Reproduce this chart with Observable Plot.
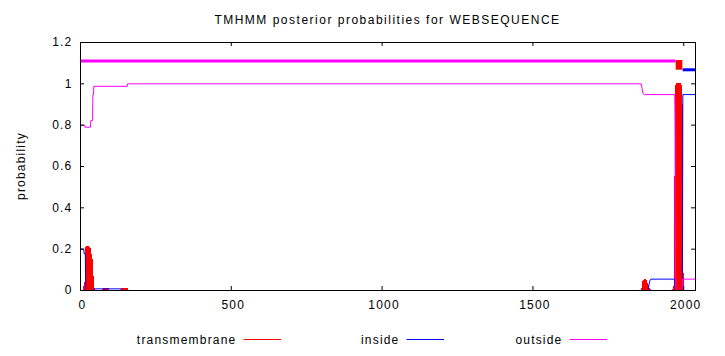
<!DOCTYPE html>
<html>
<head>
<meta charset="utf-8">
<script src="https://cdn.jsdelivr.net/npm/d3@7"></script>
<script src="https://cdn.jsdelivr.net/npm/@observablehq/plot@0.6"></script>
<style>
  body { margin: 0; background: #fff; }
  #chart { width: 725px; height: 356px; }
  #chart svg .crisp line { shape-rendering: crispEdges; }
</style>
</head>
<body>
<div id="chart"></div>
<script>
// ---------- data ----------
const title = "TMHMM posterior probabilities for WEBSEQUENCE";
const yLabel = "probability";
const seqLength = 2039;
const xTicks = [0, 500, 1000, 1500, 2000];
const yTicks = [0, 0.2, 0.4, 0.6, 0.8, 1, 1.2];
const seriesNames = ["transmembrane", "inside", "outside"];
const seriesColors = ["#ff0000", "#0000ff", "#ff00ff"];

// outside probability (breakpoints, drawn as lines)
const outsidePos = [1, 14, 15, 33, 34, 40, 41, 43, 44, 155, 156, 1859, 1862, 1864, 1869, 1970, 1971, 1972, 1973, 1974, 1975, 1995, 1996, 2039];
const outsideVal = [0.80, 0.80, 0.79, 0.79, 0.822, 0.822, 0.947, 0.947, 0.988, 0.988, 1.0, 1.0, 0.976, 0.957, 0.948, 0.948, 0.84, 0.35, 0.08, 0.01, 0, 0, 0.055, 0.055];

// inside probability (breakpoints, drawn as lines)
const insidePos = [1, 11, 12, 16, 17, 18, 44, 45, 134, 135, 1882, 1884, 1887, 1891, 1970, 1971, 1972, 1995, 1996, 1997, 2039];
const insideVal = [0.2, 0.2, 0.178, 0.178, 0.05, 0, 0, 0.008, 0.008, 0, 0, 0.02, 0.045, 0.055, 0.055, 0.02, 0, 0, 0.25, 0.948, 0.948];

// transmembrane probability (impulses, non-zero positions only)
const tmPos = [11, 12, 13, 14, 15, 16, 17, 18, 19, 20, 21, 22, 23, 24, 25, 26, 27, 28, 29, 30,
  31, 32, 33, 34, 35, 36, 37, 38, 39, 40, 41, 42, 43, 44, 45, 46,
  76, 78, 80, 82, 84, 86, 88, 90, 92,
  136, 138, 140, 142, 144, 146, 148, 150, 152, 154,
  1860, 1862, 1864, 1866, 1868, 1870, 1872, 1874, 1876, 1878, 1880, 1882, 1884, 1886, 1888, 1890,
  1966, 1968, 1969, 1970, 1971, 1972, 1973, 1974, 1975, 1976, 1977, 1978, 1979, 1980, 1981, 1982,
  1983, 1984, 1985, 1986, 1987, 1988, 1989, 1990, 1991, 1992, 1993, 1994, 1995, 1996, 1997, 1998];
const tmVal = [0.01, 0.02, 0.02, 0.03, 0.03, 0.04, 0.16, 0.205, 0.21, 0.212, 0.214, 0.214, 0.214, 0.214, 0.213, 0.212, 0.21, 0.21, 0.208, 0.205,
  0.2, 0.19, 0.178, 0.175, 0.17, 0.16, 0.15, 0.13, 0.1, 0.07, 0.05, 0.03, 0.02, 0.012, 0.01, 0.008,
  0.006, 0.01, 0.012, 0.012, 0.012, 0.012, 0.01, 0.008, 0.006,
  0.01, 0.012, 0.012, 0.012, 0.012, 0.012, 0.012, 0.012, 0.012, 0.01,
  0.005, 0.01, 0.03, 0.045, 0.05, 0.052, 0.052, 0.05, 0.045, 0.035, 0.025, 0.015, 0.008, 0.005, 0.003, 0.002,
  0.005, 0.01, 0.02, 0.05, 0.16, 0.55, 0.88, 0.97, 0.99, 0.99, 0.995, 0.998, 1.0, 1.0, 1.0, 1.0,
  1.0, 1.0, 1.0, 1.0, 1.0, 0.998, 0.995, 0.99, 0.99, 0.97, 0.9, 0.7, 0.3, 0.08, 0.02, 0.005];

// predicted topology (top bar)
const topoType = ["outside", "TMhelix", "inside"];
const topoStart = [1, 1975, 1998];
const topoEnd = [1974, 1997, 2039];

// ---------- build ----------
const W = 725, H = 356;
const mL = 80, mR = 30, mT = 42, mB = 66;
const frameW = W - mL - mR, frameH = H - mT - mB;
const tickLen = 4;

const toRows = (xs, ys) => xs.map((x, i) => ({x, y: ys[i]}));
const outsideData = toRows(outsidePos, outsideVal);
const insideData = toRows(insidePos, insideVal);
const tmData = toRows(tmPos, tmVal);
const topo = topoType.map((t, i) => ({type: t, start: topoStart[i], end: topoEnd[i]}));
const [cTM, cIn, cOut] = seriesColors;

const chart = Plot.plot({
  width: W, height: H,
  marginLeft: mL, marginRight: mR, marginTop: mT, marginBottom: mB,
  x: {domain: [0, seqLength]},
  y: {domain: [0, 1.2]},
  style: {fontFamily: "'Liberation Sans', Arial, sans-serif", fontSize: "12px", background: "white", color: "black", letterSpacing: "1.2px"},
  marks: [
    Plot.ruleX(tmData, {x: "x", y1: 0, y2: "y", stroke: cTM, strokeWidth: 2, className: "crisp"}),
    Plot.line(insideData, {x: "x", y: "y", stroke: cIn, strokeWidth: 1}),
    Plot.line(outsideData, {x: "x", y: "y", stroke: cOut, strokeWidth: 1}),
    Plot.ruleY(topo.filter(d => d.type === "outside"), {y: 1.11, x1: "start", x2: "end", stroke: cOut, strokeWidth: 3}),
    Plot.ruleY(topo.filter(d => d.type === "inside"), {y: 1.068, x1: "start", x2: "end", stroke: cIn, strokeWidth: 3}),
    Plot.rect(topo.filter(d => d.type === "TMhelix"), {x1: "start", x2: "end", y1: 1.066, y2: 1.113, fill: cTM}),
    Plot.frame({stroke: "black", strokeWidth: 1}),
    Plot.tickY(yTicks, {y: d => d, insetRight: frameW - tickLen, stroke: "black"}),
    Plot.tickY(yTicks, {y: d => d, insetLeft: frameW - tickLen, stroke: "black"}),
    Plot.tickX(xTicks, {x: d => d, insetTop: frameH - tickLen, stroke: "black"}),
    Plot.tickX(xTicks, {x: d => d, insetBottom: frameH - tickLen, stroke: "black"}),
    Plot.axisY({ticks: yTicks, tickSize: 0, tickPadding: 8, tickFormat: d => String(d), label: null}),
    Plot.axisX({ticks: xTicks, tickSize: 0, tickPadding: 10, tickFormat: d => String(d), label: null, dx: 2})
  ]
});
document.getElementById("chart").appendChild(chart);

// ---------- title, axis label, legend ----------
const svg = d3.select(chart);
const font = "'Liberation Sans', Arial, sans-serif";
svg.append("text")
  .attr("x", mL + frameW / 2).attr("y", 24)
  .attr("text-anchor", "middle")
  .style("font-family", font).style("font-size", "12px").style("letter-spacing", "1.5px")
  .attr("fill", "black")
  .text(title);
svg.append("text")
  .attr("transform", `translate(25,${mT + frameH / 2}) rotate(-90)`)
  .attr("text-anchor", "middle")
  .style("font-family", font).style("font-size", "12px").style("letter-spacing", "1.2px")
  .attr("fill", "black")
  .text(yLabel);

const legendY = 339.5, legendStart = 243.5, legendStep = 163, sampleLen = 37.5;
const legend = svg.append("g").attr("class", "legend");
seriesNames.forEach((name, i) => {
  const lx = legendStart + i * legendStep;
  legend.append("text")
    .attr("x", lx - 7).attr("y", legendY + 4.5)
    .attr("text-anchor", "end")
    .style("font-family", font).style("font-size", "12px").style("letter-spacing", "1.2px")
    .attr("fill", "black")
    .text(name);
  legend.append("path")
    .attr("d", `M${lx},${legendY}H${lx + sampleLen}`)
    .attr("fill", "none")
    .style("stroke", seriesColors[i])
    .style("stroke-width", "1.2px");
});
</script>
</body>
</html>
